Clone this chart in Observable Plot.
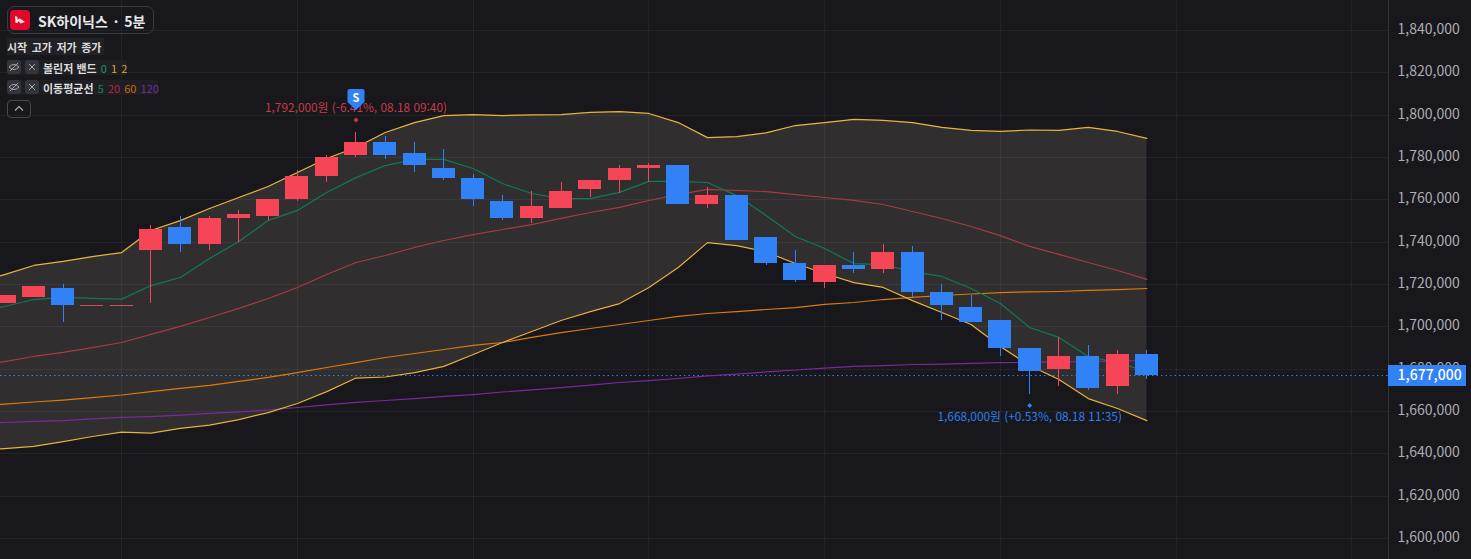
<!DOCTYPE html>
<html lang="ko">
<head>
<meta charset="utf-8">
<script src="https://cdn.jsdelivr.net/npm/d3@7"></script>
<script src="https://cdn.jsdelivr.net/npm/@observablehq/plot@0.6"></script>
<style>
  html,body{margin:0;padding:0;background:#17171c;overflow:hidden}
  #wrap{position:relative;width:1471px;height:559px;font-family:"Noto Sans CJK KR","Noto Sans",sans-serif;color:#e4e4e6}
  #wrap svg.plot{display:block}
  .o{position:absolute;white-space:nowrap;box-sizing:border-box}
  .row{font-size:11px;font-weight:700;line-height:16px;background:#212126;color:#dcdcde}
  .btn{width:14px;height:14px;background:#33343c;border-radius:3px;display:flex;align-items:center;justify-content:center}
  .num{font-weight:400;font-size:11px;margin-left:1px}
</style>
</head>
<body>
<div id="wrap">
  <div id="chart"></div>
  <div class="o" style="left:7px;top:6px;width:147px;height:28px;border:1px solid #3a3a41;border-radius:7px"></div>
  <svg class="o" style="left:10px;top:10px" width="20" height="20" viewBox="0 0 20 20"><rect width="20" height="20" rx="4" fill="#e2062c"/><path d="M5 6 L7.5 7 L7.5 9.5 L10 8.5 L15 12 L10.5 13.5 L8.5 11 L7.5 13 L5.5 13 Z" fill="#fbe4e6"/></svg>
  <div class="o" style="left:38px;top:10px;font-size:14px;font-weight:700;line-height:22px;color:#e8e8ea;word-spacing:2px">SK하이닉스 · 5분</div>

  <div class="o row" style="left:7px;top:38px;padding:1px 3px 0 0;height:17px;width:97px;font-size:11px;word-spacing:1.4px">시작 고가 저가 종가</div>

  <div class="o row" style="left:7px;top:60px;width:120px;height:15px;background:#1e1e23"></div>
  <div class="o btn" style="left:7px;top:60px"><svg width="12" height="10" viewBox="0 0 12 10"><path d="M1 5 Q6 0 11 5 Q6 10 1 5Z M2 9 L10 1" fill="none" stroke="#a5a5aa" stroke-width="1"/></svg></div>
  <div class="o btn" style="left:25px;top:60px"><svg width="8" height="8" viewBox="0 0 8 8"><path d="M1 1L7 7M7 1L1 7" stroke="#a5a5aa" stroke-width="1"/></svg></div>
  <div class="o row" style="left:43px;top:59.5px;background:none">볼린저 밴드 <span class="num" style="color:#0d9a62">0</span> <span class="num" style="color:#e0a531">1</span> <span class="num" style="color:#e0a531">2</span></div>

  <div class="o row" style="left:7px;top:80px;width:151px;height:15px;background:#1e1e23"></div>
  <div class="o btn" style="left:7px;top:80px"><svg width="12" height="10" viewBox="0 0 12 10"><path d="M1 5 Q6 0 11 5 Q6 10 1 5Z M2 9 L10 1" fill="none" stroke="#a5a5aa" stroke-width="1"/></svg></div>
  <div class="o btn" style="left:25px;top:80px"><svg width="8" height="8" viewBox="0 0 8 8"><path d="M1 1L7 7M7 1L1 7" stroke="#a5a5aa" stroke-width="1"/></svg></div>
  <div class="o row" style="left:43px;top:79.5px;background:none">이동평균선 <span class="num" style="color:#0b8a58">5</span> <span class="num" style="color:#b4283c">20</span> <span class="num" style="color:#c96c0a">60</span> <span class="num" style="color:#7d2a9e">120</span></div>

  <div class="o" style="left:7px;top:100px;width:24px;height:18px;border:1px solid #47474d;border-radius:4px"></div>
  <svg class="o" style="left:14px;top:105px" width="10" height="7" viewBox="0 0 10 7"><path d="M1 5.5L5 1.5L9 5.5" fill="none" stroke="#b0b0b4" stroke-width="1.2"/></svg>
</div>
<script>
// prices in thousands of won
const candleOpen  = [1711,1714,1718,1710,1710,1736,1747,1739,1751,1752,1760,1771,1781,1787,1782,1775,1770,1759,1751,1756,1765,1769,1775,1776,1758,1762,1742,1730,1721,1729,1727,1735,1716,1709,1703,1690,1680,1686,1672,1687];
const candleHigh  = [1715,1719,1720,1710,1710,1748,1752,1752,1755,1760,1774,1781,1792,1790,1787,1784,1772,1762,1764,1768,1769,1776,1777,1776,1766,1762,1742,1736,1729,1735,1739,1738,1720,1715,1703,1690,1695,1691,1689,1689];
const candleLow   = [1711,1714,1702,1710,1710,1711,1735,1736,1740,1750,1759,1768,1780,1779,1773,1769,1757,1750,1749,1756,1761,1763,1768,1758,1756,1741,1729,1721,1718,1725,1725,1714,1703,1702,1686,1668,1672,1670,1668,1675];
const candleClose = [1715,1719,1710,1710,1710,1746,1739,1751,1753,1760,1771,1780,1787,1781,1776,1770,1760,1751,1757,1764,1769,1775,1776,1758,1762,1741,1730,1722,1729,1727,1735,1716,1710,1702,1690,1679,1686,1671,1687,1677];

// indicator series, first value is the bar just left of the frame
const bandUpper = [1720.5,1724.7,1729,1730.9,1733.2,1735.1,1745.5,1750.2,1755.9,1761.1,1766.3,1772.9,1779.5,1784.7,1791.8,1796.5,1799.8,1800.3,1799.8,1800.1,1800.3,1801.3,1801.7,1800.8,1796.5,1789.4,1789.9,1791.6,1795.1,1796.5,1798,1797.5,1796.5,1794.2,1792.8,1792.3,1793,1792.8,1794.2,1792.3,1789];
const bandLower = [1641.6,1642.5,1643.5,1645.8,1648.2,1650.3,1649.8,1652,1653.6,1656.2,1659.5,1663.8,1669.4,1675.8,1676.3,1678.4,1681.3,1686.9,1692.6,1697.8,1703,1707.2,1711,1718.6,1728,1739.8,1738.4,1735.4,1729.9,1725.2,1720.9,1718.6,1712.4,1706.8,1701.1,1690.7,1681.7,1675.1,1666.1,1661.4,1655.7];
const ma5   = [1707.2,1709.6,1712.9,1713.9,1713.4,1713.1,1719.5,1723.3,1732.3,1740.3,1750.2,1755,1763.5,1770.5,1776.2,1779.1,1779.1,1774.8,1767.7,1763,1760.6,1760.6,1763.5,1768.7,1768.7,1768.2,1762,1752.6,1742.7,1737,1729.9,1729.4,1726.1,1723.8,1718.1,1711,1699.7,1695,1686,1683.1,1678.9];
const ma20  = [1681.3,1683.6,1686,1687.9,1690.2,1692.6,1696.4,1700.2,1704.4,1708.7,1713.4,1718.6,1724.7,1730.4,1733.7,1737.5,1740.8,1743.6,1746,1748.3,1751.2,1754,1756.4,1759.7,1762.5,1764.9,1764.4,1763.9,1762.5,1761.1,1759.7,1757.8,1754.5,1751.2,1747.4,1743.1,1738,1734.2,1730.4,1726.6,1722.4];
const ma60  = [1662.6,1663.5,1664.5,1665.4,1666.6,1667.8,1669.4,1670.9,1672.3,1674.2,1676.1,1678.4,1680.8,1683.1,1685.5,1687.4,1689.3,1691.2,1692.6,1695,1697.3,1699.2,1701.1,1703,1704.9,1706.3,1707.2,1708.2,1709.1,1710.6,1711.5,1712.9,1713.9,1714.8,1715.5,1716.2,1716.5,1716.7,1717.2,1717.6,1718.1];
const ma120 = [1654.3,1654.8,1655.3,1655.7,1656.5,1657.2,1657.6,1658.3,1659.1,1659.8,1660.7,1661.9,1663.1,1664.3,1665.2,1666.1,1667.1,1668,1669.2,1670.2,1671.3,1672.5,1673.7,1674.6,1675.6,1676.8,1677.7,1678.7,1679.6,1680.5,1681.3,1681.7,1682.2,1682.4,1682.7,1683.1,1683.2,1683.4,1683.6,1683.9,1684.1];

const priceTicks = [1600,1620,1640,1660,1680,1700,1720,1740,1760,1780,1800,1820,1840];
const timeGrid = [4,10,16,22,28,34,40,46]; // bars at each half hour
const lastPrice = 1677;
const highNote = {i:12, price:1792, text:"1,792,000원 (-6.41%, 08.18 09:40)"};
const lowNote  = {i:35, price:1668, text:"1,668,000원 (+0.53%, 08.18 11:35)"};

const RED="#f54556", BLUE="#3182f6";
const won = d => d3.format(",")(d*1000);
const FONT = '"Noto Sans CJK KR","Noto Sans",sans-serif';
const X0=-0.1366, X1=47.25;

const candles = candleOpen.map((o,i)=>({i,o,h:candleHigh[i],l:candleLow[i],c:candleClose[i],
  color: candleClose[i]>=o ? RED : BLUE}));
const solid = candles.filter(d=>d.o!==d.c);
const flat  = candles.filter(d=>d.o===d.c);
const rows = bandUpper.map((u,k)=>({i:k-1,u,l:bandLower[k],m5:ma5[k],m20:ma20[k],m60:ma60[k],m120:ma120[k]}));
const line = (key,stroke)=>Plot.line(rows,{x:"i",y:key,stroke,strokeWidth:1.2,curve:"linear",clip:true});

const shield = {draw(ctx){ctx.moveTo(-6.5,-10);ctx.lineTo(6.5,-10);ctx.quadraticCurveTo(8.5,-10,8.5,-8);ctx.lineTo(8.5,3);ctx.lineTo(0,11);ctx.lineTo(-8.5,3);ctx.lineTo(-8.5,-8);ctx.quadraticCurveTo(-8.5,-10,-6.5,-10);ctx.closePath();}};
const pointer = {draw(ctx){ctx.moveTo(0,-2.5);ctx.lineTo(2.5,0);ctx.lineTo(0,2.5);ctx.lineTo(-2.5,0);ctx.closePath();}};

const plot = Plot.plot({
  width:1471,height:559,
  marginTop:0,marginBottom:0,marginLeft:0,marginRight:83,
  style:{background:"#17171c",fontFamily:FONT,overflow:"hidden"},
  x:{type:"linear",domain:[X0,X1],axis:null},
  y:{domain:[1590.079,1854.173]},
  marks:[
    Plot.areaY(rows,{x:"i",y1:"l",y2:"u",fill:"#302e2f",clip:true}),
    Plot.ruleY(priceTicks,{x1:X0,x2:X1,stroke:"#fff",strokeOpacity:0.05,shapeRendering:"crispEdges"}),
    Plot.ruleX(timeGrid,{stroke:"#fff",strokeOpacity:0.05,shapeRendering:"crispEdges"}),
    Plot.ruleX([X1],{stroke:"#33333a",shapeRendering:"crispEdges"}),
    Plot.ruleY([lastPrice],{x1:X0,x2:X1,stroke:BLUE,strokeDasharray:"1.5 3"}),
    line("m120","#7a2a9c"),
    line("m60","#dd7a0c"),
    line("m20","#a93a40"),
    line("m5","#0c7c54"),
    line("u","#e8b43e"),
    line("l","#e8b43e"),
    Plot.ruleX(candles,{x:"i",y1:"l",y2:"h",stroke:"color",strokeWidth:1,clip:true,shapeRendering:"crispEdges"}),
    Plot.rect(solid,{x1:d=>d.i-0.393,x2:d=>d.i+0.393,y1:"o",y2:"c",fill:"color",clip:true,shapeRendering:"crispEdges"}),
    Plot.ruleY(flat,{x1:d=>d.i-0.393,x2:d=>d.i+0.393,y:"c",stroke:"#c8525f",strokeWidth:1,shapeRendering:"crispEdges"}),
    Plot.axisY(priceTicks,{anchor:"right",tickSize:0,tickPadding:9,tickFormat:won,fontSize:14,fill:"#aeaeb2",stroke:null,dy:-1,label:null}),
    Plot.text([highNote],{x:"i",y:"price",text:"text",dy:-24,fill:"#c83a4c",fontSize:11.85}),
    Plot.text([lowNote],{x:"i",y:"price",text:"text",dy:23,fill:"#2f7fec",fontSize:11.85}),
    Plot.dot([highNote],{x:"i",y:"price",dy:-12,symbol:pointer,fill:"#c83a4c",r:2}),
    Plot.dot([lowNote],{x:"i",y:"price",dy:11,symbol:pointer,fill:"#2f7fec",r:2}),
    Plot.dot([highNote],{x:"i",y:"price",dy:-33,symbol:shield,fill:BLUE,r:8}),
    Plot.text([highNote],{x:"i",y:"price",dy:-34,text:()=>"S",fill:"#fff",fontSize:11,fontWeight:700}),
    Plot.ruleY([lastPrice],{x1:X1,x2:49.93,stroke:BLUE,strokeWidth:21,shapeRendering:"crispEdges"}),
    Plot.text([lastPrice],{x:X1,y:d=>d,text:won,dx:9,textAnchor:"start",fill:"#fff",fontSize:14,fontWeight:500})
  ]
});
document.getElementById("chart").appendChild(plot);
</script>
</body>
</html>
